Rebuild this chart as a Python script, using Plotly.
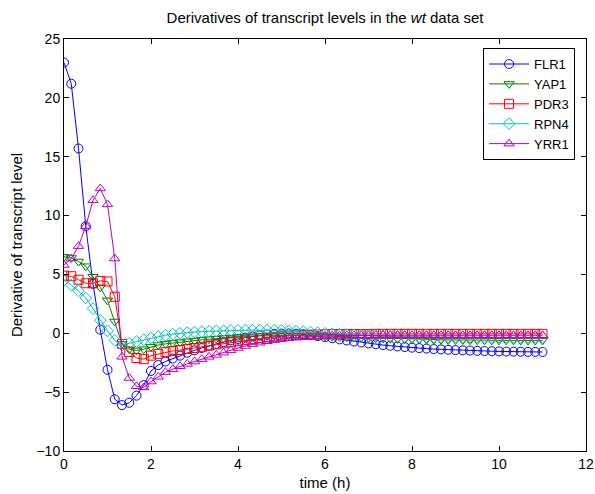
import plotly.graph_objects as go

t = [i / 6 for i in range(67)]

FLR1 = [23.0, 21.2, 15.7, 9.1, 4.2, 0.3, -3.1, -5.6, -6.1, -5.9, -5.3, -4.4,
        -3.2, -2.7, -2.4, -2.15, -1.9, -1.65, -1.45, -1.25, -1.05, -0.9, -0.75, -0.6,
        -0.48, -0.37, -0.27, -0.18, -0.11, -0.05, -0.02, -0.01, -0.03, -0.08, -0.15, -0.24,
        -0.33, -0.42, -0.52, -0.61, -0.7, -0.78, -0.86, -0.93, -1.0, -1.06, -1.12, -1.17,
        -1.22, -1.26, -1.3, -1.34, -1.37, -1.4, -1.43, -1.45, -1.47, -1.49, -1.51, -1.52,
        -1.54, -1.55, -1.56, -1.57, -1.58, -1.58, -1.59]

YAP1 = [6.5, 6.4, 6.1, 5.7, 4.8, 3.9, 2.8, 1.0, -0.9, -1.35, -1.45, -1.35,
        -1.15, -1.0, -0.9, -0.82, -0.75, -0.68, -0.62, -0.56, -0.5, -0.45, -0.4, -0.36,
        -0.32, -0.28, -0.25, -0.22, -0.2, -0.18, -0.17, -0.17, -0.17, -0.18, -0.2, -0.22,
        -0.25, -0.28, -0.3, -0.33, -0.35, -0.38, -0.4, -0.42, -0.44, -0.46, -0.48, -0.5,
        -0.51, -0.52, -0.53, -0.54, -0.55, -0.56, -0.57, -0.57, -0.58, -0.58, -0.59, -0.59,
        -0.6, -0.6, -0.6, -0.6, -0.61, -0.61, -0.61]

PDR3 = [4.9, 4.85, 4.55, 4.25, 4.25, 4.45, 4.4, 3.1, -0.9, -1.6, -2.1, -2.2,
        -1.9, -1.75, -1.6, -1.5, -1.42, -1.33, -1.25, -1.15, -1.05, -0.95, -0.85, -0.76,
        -0.67, -0.58, -0.5, -0.43, -0.36, -0.3, -0.25, -0.2, -0.17, -0.14, -0.12, -0.1,
        -0.09, -0.08, -0.07, -0.07, -0.06, -0.06, -0.06, -0.05, -0.05, -0.05, -0.05, -0.05,
        -0.05, -0.05, -0.05, -0.05, -0.05, -0.05, -0.05, -0.05, -0.05, -0.05, -0.05, -0.05,
        -0.05, -0.05, -0.05, -0.05, -0.05, -0.05, -0.05]

RPN4 = [4.5, 4.1, 3.6, 3.0, 2.1, 1.1, 0.2, -0.6, -1.0, -0.85, -0.7, -0.55,
        -0.4, -0.27, -0.16, -0.07, 0.0, 0.06, 0.1, 0.14, 0.17, 0.2, 0.22, 0.24,
        0.25, 0.26, 0.27, 0.27, 0.27, 0.26, 0.24, 0.21, 0.18, 0.14, 0.1, 0.05,
        0.0, -0.04, -0.08, -0.11, -0.14, -0.17, -0.19, -0.21, -0.23, -0.25, -0.26, -0.27,
        -0.28, -0.29, -0.3, -0.31, -0.31, -0.32, -0.32, -0.33, -0.33, -0.33, -0.34, -0.34,
        -0.34, -0.35, -0.35, -0.35, -0.35, -0.35, -0.35]

YRR1 = [5.8, 6.35, 7.4, 9.1, 11.3, 12.3, 10.95, 6.35, -2.0, -3.8, -4.5, -4.6,
        -4.1, -3.7, -3.3, -3.05, -2.8, -2.6, -2.4, -2.2, -2.0, -1.83, -1.65, -1.45,
        -1.25, -1.08, -0.92, -0.8, -0.68, -0.58, -0.5, -0.42, -0.36, -0.31, -0.27, -0.24,
        -0.22, -0.2, -0.19, -0.18, -0.18, -0.17, -0.17, -0.17, -0.17, -0.17, -0.17, -0.17,
        -0.17, -0.17, -0.17, -0.17, -0.17, -0.17, -0.17, -0.17, -0.17, -0.17, -0.17, -0.17,
        -0.17, -0.17, -0.17, -0.17, -0.17, -0.17, -0.17]

series = [
    ("FLR1", FLR1, "#0000ff", "circle-open"),
    ("YAP1", YAP1, "#008000", "triangle-down-open"),
    ("PDR3", PDR3, "#ff0000", "square-open"),
    ("RPN4", RPN4, "#00bfbf", "diamond-open"),
    ("YRR1", YRR1, "#bf00bf", "triangle-up-open"),
]

fig = go.Figure()
for name, vals, color, sym in series:
    fig.add_trace(go.Scatter(
        x=t, y=vals, name=name, mode="lines+markers",
        line=dict(color=color, width=1),
        marker=dict(symbol=sym, size=9, color=color, line=dict(width=1, color=color)),
    ))

font = "Liberation Sans, Arial, Helvetica, sans-serif"
axis_common = dict(
    showline=True, linecolor="black", linewidth=1, mirror="ticks",
    ticks="inside", ticklen=5, tickcolor="black", showgrid=False, zeroline=False,
    automargin=False,
    tickfont=dict(size=14, color="black", family=font),
)
fig.update_layout(
    width=595, height=494,
    margin=dict(l=64, r=9, t=39, b=43),
    paper_bgcolor="white", plot_bgcolor="white",
    font=dict(family=font, color="black", size=14),
    title=dict(text="Derivatives of transcript levels in the <i>wt</i> data set",
               x=(64 + 586) / 2 / 595, xanchor="center", y=1 - 18 / 494, yanchor="middle",
               font=dict(size=15, family=font, color="black")),
    xaxis=dict(range=[0, 12], dtick=2, tick0=0,
               title=dict(text="time (h)", standoff=6, font=dict(size=15)), **axis_common),
    yaxis=dict(range=[-10, 25], dtick=5, tick0=-10,
               title=dict(text="Derivative of transcript level", standoff=10, font=dict(size=15)),
               **axis_common),
    legend=dict(x=0.979, y=0.978, xanchor="right", yanchor="top",
                bordercolor="black", borderwidth=1, bgcolor="white",
                font=dict(size=13, family=font), tracegroupgap=0, itemwidth=40),
    showlegend=True,
)

fig.write_html("out.html", config={"displayModeBar": False},
               post_script="document.body.style.margin='0';document.body.style.padding='0';")
